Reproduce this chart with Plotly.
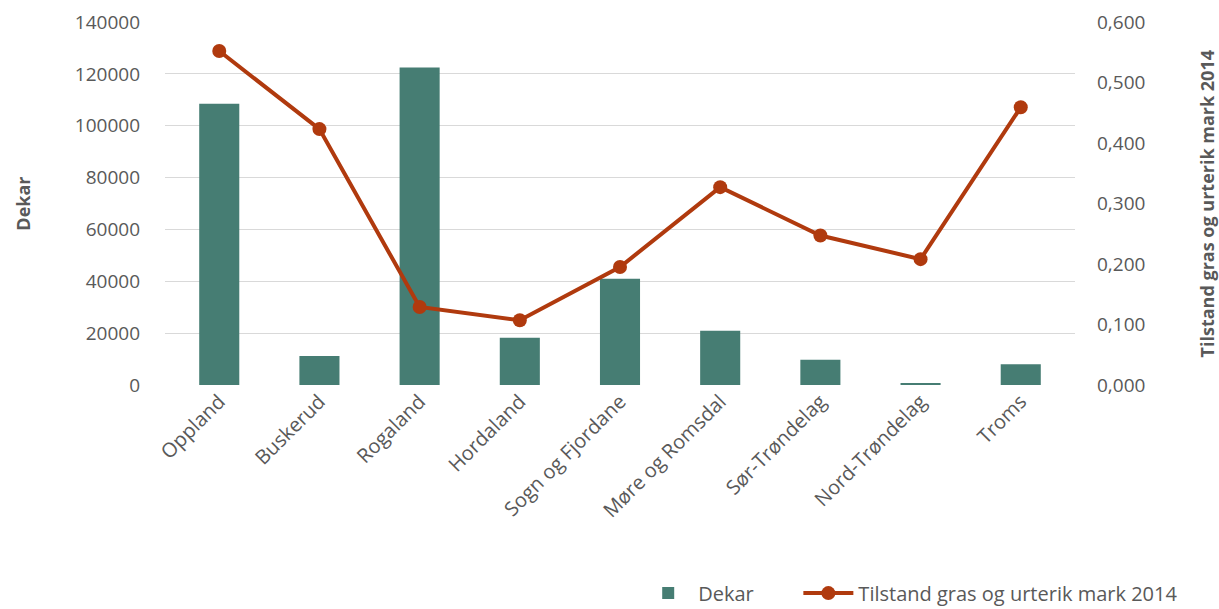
import plotly.graph_objects as go

categories = ["Oppland", "Buskerud", "Rogaland", "Hordaland", "Sogn og Fjordane",
              "Møre og Romsdal", "Sør-Trøndelag", "Nord-Trøndelag", "Troms"]
dekar = [108500, 11200, 122500, 18200, 41000, 20900, 9700, 500, 8000]
tilstand = [0.552, 0.423, 0.129, 0.107, 0.195, 0.327, 0.247, 0.208, 0.459]

left_ticks = [0, 20000, 40000, 60000, 80000, 100000, 120000, 140000]
right_ticks = [0, 0.1, 0.2, 0.3, 0.4, 0.5, 0.6]

bar_color = "#467D73"
line_color = "#B03A0E"
text_color = "#595959"
font_family = "Open Sans, Liberation Sans, sans-serif"

fig = go.Figure()
fig.add_trace(go.Bar(x=categories, y=dekar, name="Dekar", marker_color=bar_color,
                     marker_line_width=0, yaxis="y", legend="legend"))
fig.add_trace(go.Scatter(x=categories, y=tilstand, name="Tilstand gras og urterik mark 2014",
                         mode="lines+markers", yaxis="y2", legend="legend2",
                         line=dict(color=line_color, width=4),
                         marker=dict(color=line_color, size=14)))

legend_common = dict(orientation="h", yanchor="bottom", y=-0.627, xanchor="left",
                     font=dict(size=20, color=text_color), itemwidth=50,
                     bgcolor="rgba(0,0,0,0)")

fig.update_layout(
    width=1219, height=609,
    margin=dict(l=165, r=144, t=22, b=224, autoexpand=False),
    plot_bgcolor="white", paper_bgcolor="white",
    separators=", ",
    font=dict(family=font_family, size=20, color=text_color),
    bargap=0.6,
    showlegend=True,
    legend=dict(x=0.52, **legend_common),
    legend2=dict(x=0.696, **legend_common),
    xaxis=dict(tickangle=-45, tickfont=dict(size=20, color=text_color),
               showgrid=False, showline=False, ticks="", automargin=False),
    yaxis=dict(range=[0, 140000], tickvals=left_ticks, tickformat="d",
               showgrid=True, gridcolor="#D9D9D9", gridwidth=1.3, zeroline=False,
               tickfont=dict(size=19, color=text_color), ticks="", ticklabelstandoff=24,
               automargin=False),
    yaxis2=dict(range=[0, 0.6], tickvals=right_ticks, tickformat=".3f", overlaying="y",
                side="right", showgrid=False, zeroline=False, ticklabelstandoff=21,
                tickfont=dict(size=19, color=text_color), automargin=False),
    annotations=[
        dict(text="<b>Dekar</b>", xref="paper", yref="paper", x=-0.157, y=0.5,
             xanchor="center", yanchor="middle", textangle=-90, showarrow=False,
             font=dict(size=18, color=text_color)),
        dict(text="<b>Tilstand gras og urterik mark 2014</b>", xref="paper", yref="paper",
             x=1.145, y=0.5, xanchor="center", yanchor="middle", textangle=-90,
             showarrow=False, font=dict(size=18, color=text_color)),
    ],
)

fig.write_html("out.html")
